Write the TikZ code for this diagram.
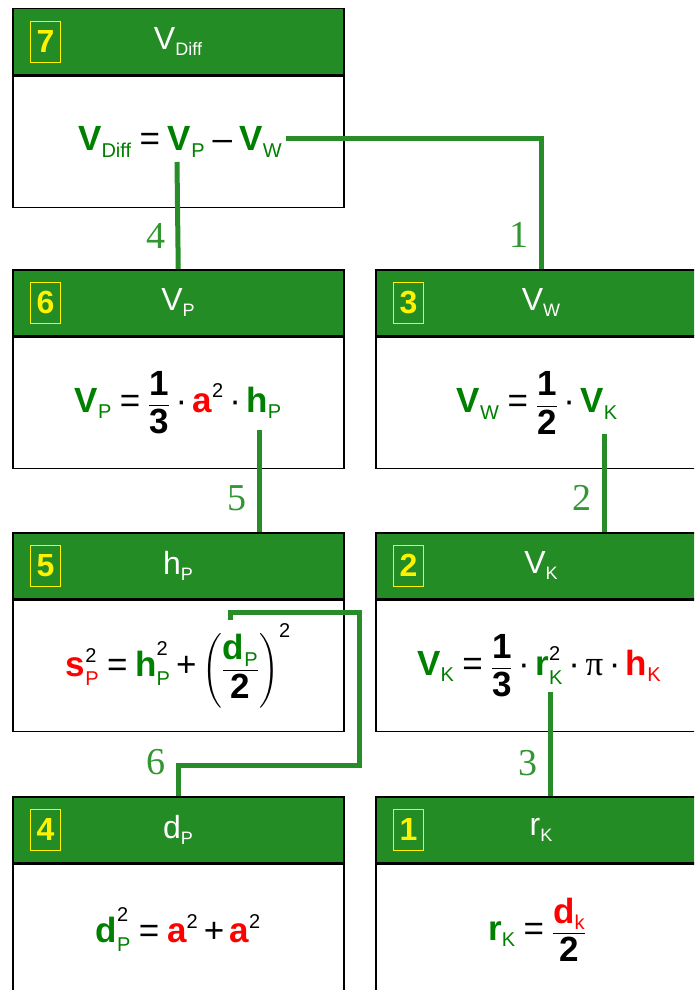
\documentclass[tikz,border=0pt]{standalone}
\usepackage{amsmath}
\usepackage{fontspec}
\setmainfont{Liberation Sans}
\newfontfamily\labelfont{Liberation Serif}
\usetikzlibrary{positioning}

\definecolor{hdrgreen}{RGB}{36,140,36}
\definecolor{fgreen}{RGB}{0,128,0}
\definecolor{fred}{RGB}{255,0,0}
\definecolor{linkgreen}{RGB}{40,140,40}
\definecolor{lblgreen}{RGB}{50,150,50}

% coloured variable with subscript, header variable, digits
\newcommand{\subsz}{\fontsize{20}{20}\selectfont}
\newcommand{\fv}[3]{\text{\color{#1}\bfseries #2}_{\raisebox{-3pt}{\subsz\color{#1}#3}}}
\newcommand{\hv}[2]{\text{#1}_{\raisebox{-2pt}{\fontsize{18}{18}\selectfont #2}}}
\newcommand{\bn}[1]{\text{\bfseries #1}}
\newcommand{\sq}{^{\raisebox{5pt}{\subsz 2}}}
\newcommand{\eq}{\mathrel{\hspace{1pt}\text{=}\hspace{1pt}}}
\newcommand{\pl}{\mathbin{\text{+}}}
\newcommand{\mi}{\mathbin{\hspace{2pt}\text{–}\hspace{2pt}}}
\newcommand{\cd}{\mathbin{\text{·}}}

\tikzset{
  hdr/.style={draw=black, line width=1.5pt, fill=hdrgreen, minimum width=331pt,
    minimum height=66pt, inner sep=0pt, anchor=north west, text=white,
    font=\fontsize{32}{38}\selectfont},
  bodybox/.style={draw=black, line width=1.5pt, fill=white, minimum width=331pt,
    minimum height=131pt, inner sep=0pt, anchor=north},
  numbox/.style={draw=yellow, line width=1.2pt, text=yellow, minimum width=30pt,
    minimum height=41pt, inner sep=0pt, font=\fontsize{32}{38}\selectfont\bfseries},
  formula/.style={font=\fontsize{35}{42}\selectfont, inner sep=0pt},
  link/.style={draw=linkgreen, line width=5pt},
  lbl/.style={text=lblgreen, font=\fontsize{38}{40}\selectfont\labelfont, inner sep=10pt},
}

\begin{document}
\begin{tikzpicture}[x=1pt, y=-1pt]
  \useasboundingbox (0,0) rectangle (694,990);
  \clip (0,0) rectangle (694,990);

  % row 1
  \node[hdr] (h7) at (12,8) {$\hv{V}{Diff}$};
  \node[bodybox] (b7) at (h7.south) {};
  \node[numbox, right=18pt of h7.west] (n7) {7};
  \node[formula] (f7) at ([xshift=2pt]b7.center)
    {$\fv{fgreen}{V}{Diff} \eq \fv{fgreen}{V}{P} \mi \fv{fgreen}{V}{W}$};

  % row 2
  \node[hdr] (h6) at (12,269) {$\hv{V}{P}$};
  \node[bodybox] (b6) at (h6.south) {};
  \node[numbox, right=18pt of h6.west] (n6) {6};
  \node[formula] (f6) at (b6.center)
    {$\fv{fgreen}{V}{P} \eq \dfrac{\bn{1}}{\bn{3}} \cd \text{\color{fred}\bfseries a}\sq \cd \fv{fgreen}{h}{P}$};

  \node[hdr] (h3) at (375,269) {$\hv{V}{W}$};
  \node[bodybox] (b3) at (h3.south) {};
  \node[numbox, right=18pt of h3.west] (n3) {3};
  \node[formula] (f3) at ([xshift=-4pt]b3.center)
    {$\fv{fgreen}{V}{W} \eq \dfrac{\bn{1}}{\bn{2}} \cd \fv{fgreen}{V}{K}$};

  % row 3
  \node[hdr] (h5) at (12,532) {$\hv{h}{P}$};
  \node[bodybox] (b5) at (h5.south) {};
  \node[numbox, right=18pt of h5.west] (n5) {5};
  \node[formula] (f5) at (b5.center)
    {$\fv{fred}{s}{P}\sq \eq \fv{fgreen}{h}{P}\sq \pl \left(\dfrac{\fv{fgreen}{d}{P}}{\bn{2}}\right)\sq$};

  \node[hdr] (h2) at (375,532) {$\hv{V}{K}$};
  \node[bodybox] (b2) at (h2.south) {};
  \node[numbox, right=18pt of h2.west] (n2) {2};
  \node[formula] (f2) at ([xshift=-2pt]b2.center)
    {$\fv{fgreen}{V}{K} \eq \dfrac{\bn{1}}{\bn{3}} \cd \fv{fgreen}{r}{K}\sq \cd \text{\labelfont π} \cd \fv{fred}{h}{K}$};

  % row 4
  \node[hdr] (h4) at (12,796) {$\hv{d}{P}$};
  \node[bodybox] (b4) at (h4.south) {};
  \node[numbox, right=18pt of h4.west] (n4) {4};
  \node[formula] (f4) at (b4.center)
    {$\fv{fgreen}{d}{P}\sq \eq \text{\color{fred}\bfseries a}\sq \pl \text{\color{fred}\bfseries a}\sq$};

  \node[hdr] (h1) at (375,796) {$\hv{r}{K}$};
  \node[bodybox] (b1) at (h1.south) {};
  \node[numbox, right=18pt of h1.west] (n1) {1};
  \node[formula] (f1) at ([xshift=-4pt]b1.center)
    {$\fv{fgreen}{r}{K} \eq \dfrac{\fv{fred}{d}{k}}{\bn{2}}$};

  % connector ends
  \coordinate (vw) at (286,138);
  \coordinate (vp) at (177,162);
  \coordinate (hp) at (259,430);
  \coordinate (vk) at (604,434);
  \coordinate (rk) at (550,692);
  \coordinate (dp) at (230,620);
  \coordinate (c6a) at (359,612);
  \coordinate (c6b) at (359,765);

  % connectors
  \draw[link] (vw) -| node[lbl, pos=0.87, left] {1} (h3.north);
  \draw[link] (vp) -- node[lbl, pos=0.69, left] {4} (h6.north);
  \draw[link] (hp) -- node[lbl, pos=0.67, left] {5} (hp |- h5.north);
  \draw[link] (vk) -- node[lbl, pos=0.65, left] {2} (vk |- h2.north);
  \draw[link] (rk) -- node[lbl, pos=0.68, left] {3} (rk |- h1.north);
  \draw[link] (dp) |- (c6a) -- (c6b) -| node[lbl, pos=0.5, left, yshift=3pt] {6} (h4.north);
\end{tikzpicture}
\end{document}
